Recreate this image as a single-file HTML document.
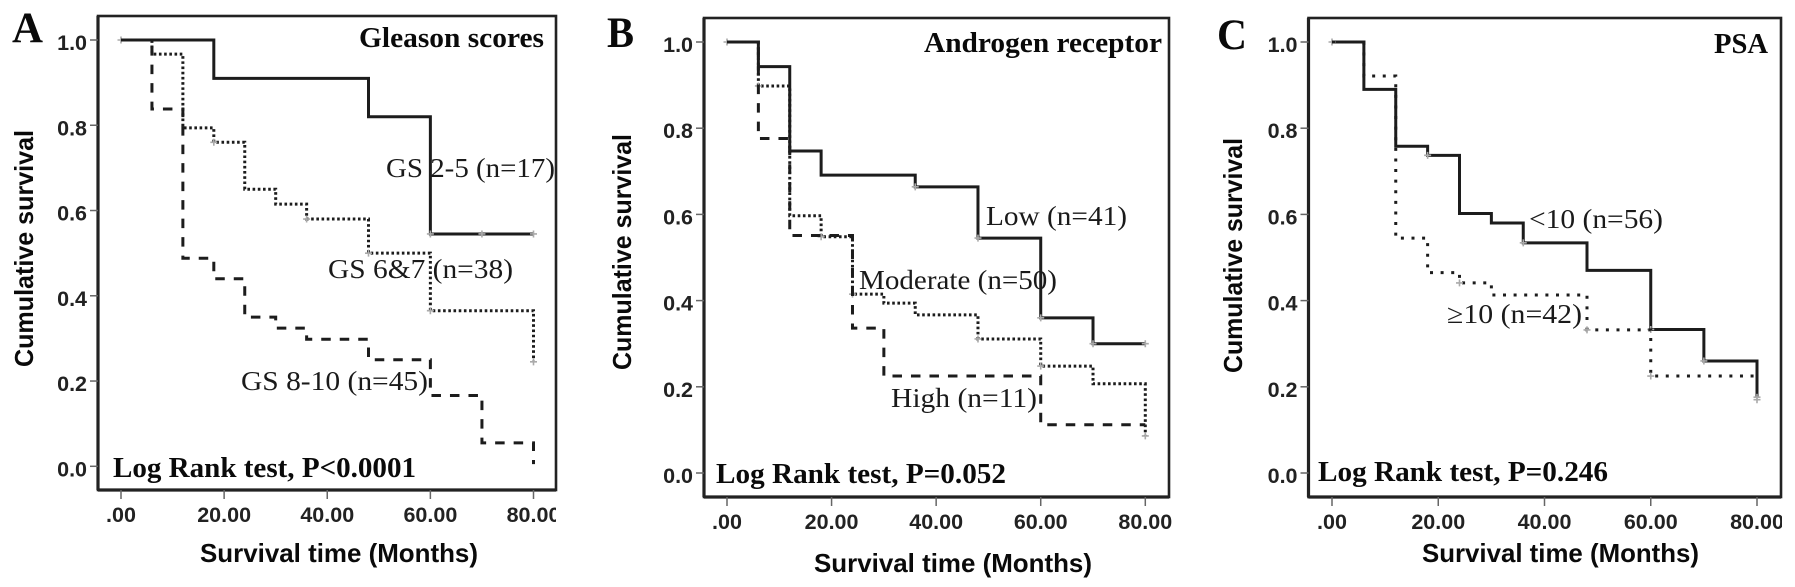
<!DOCTYPE html>
<html lang="en">
<head>
<meta charset="utf-8">
<title>Kaplan-Meier survival curves</title>
<style>
html,body{margin:0;padding:0;background:#fff;}
svg{display:block;}
.letter{font:bold 43px "Liberation Serif",serif;fill:#0a0a0a;}
.title{font:bold 28px "Liberation Serif",serif;fill:#0a0a0a;}
.logrank{font:bold 28px "Liberation Serif",serif;fill:#0a0a0a;}
.label{font:27px "Liberation Serif",serif;fill:#1a1a1a;}
.axis-title{font:bold 26px "Liberation Sans",sans-serif;fill:#0a0a0a;}
.tick-label{font:bold 21.5px "Liberation Sans",sans-serif;fill:#222;}
</style>
</head>
<body>
<svg id="chart" xmlns="http://www.w3.org/2000/svg" width="1795" height="587" viewBox="0 0 1795 587">
  <defs>
    <clipPath id="clip-a"><rect x="90" y="495" width="466" height="40"/></clipPath>
    <clipPath id="clip-c"><rect x="1300" y="495" width="482" height="40"/></clipPath>
  </defs>
  <rect x="0" y="0" width="1795" height="587" fill="#fff"/>
  <g id="panel-a"></g>
  <g id="panel-b"></g>
  <g id="panel-c"></g>

  <text class="letter" x="12" y="42" textLength="31" lengthAdjust="spacingAndGlyphs">A</text>
  <text class="title" x="359" y="47" textLength="185" lengthAdjust="spacingAndGlyphs">Gleason scores</text>
  <text class="label" x="386" y="177" textLength="169" lengthAdjust="spacingAndGlyphs">GS 2-5 (n=17)</text>
  <text class="label" x="328" y="278" textLength="185" lengthAdjust="spacingAndGlyphs">GS 6&amp;7 (n=38)</text>
  <text class="label" x="241" y="390" textLength="187" lengthAdjust="spacingAndGlyphs">GS 8-10 (n=45)</text>
  <text class="logrank" x="113" y="477" textLength="303" lengthAdjust="spacingAndGlyphs">Log Rank test, P&lt;0.0001</text>
  <text class="axis-title" x="200" y="562" textLength="278" lengthAdjust="spacingAndGlyphs">Survival time (Months)</text>
  <text class="axis-title" transform="translate(33,367) rotate(-90)" textLength="237" lengthAdjust="spacingAndGlyphs">Cumulative survival</text>

  <text class="letter" x="607" y="47" textLength="27" lengthAdjust="spacingAndGlyphs">B</text>
  <text class="title" x="924" y="52" textLength="238" lengthAdjust="spacingAndGlyphs">Androgen receptor</text>
  <text class="label" x="986" y="225" textLength="141" lengthAdjust="spacingAndGlyphs">Low (n=41)</text>
  <text class="label" x="859" y="289" textLength="198" lengthAdjust="spacingAndGlyphs">Moderate (n=50)</text>
  <text class="label" x="891" y="407" textLength="146" lengthAdjust="spacingAndGlyphs">High (n=11)</text>
  <text class="logrank" x="716" y="483" textLength="290" lengthAdjust="spacingAndGlyphs">Log Rank test, P=0.052</text>
  <text class="axis-title" x="814" y="572" textLength="278" lengthAdjust="spacingAndGlyphs">Survival time (Months)</text>
  <text class="axis-title" transform="translate(631,370) rotate(-90)" textLength="236" lengthAdjust="spacingAndGlyphs">Cumulative survival</text>

  <text class="letter" x="1217" y="49" textLength="30" lengthAdjust="spacingAndGlyphs">C</text>
  <text class="title" x="1714" y="53" textLength="54" lengthAdjust="spacingAndGlyphs">PSA</text>
  <text class="label" x="1529" y="228" textLength="134" lengthAdjust="spacingAndGlyphs">&lt;10 (n=56)</text>
  <text class="label" x="1447" y="323" textLength="135" lengthAdjust="spacingAndGlyphs">≥10 (n=42)</text>
  <text class="logrank" x="1318" y="481" textLength="290" lengthAdjust="spacingAndGlyphs">Log Rank test, P=0.246</text>
  <text class="axis-title" x="1422" y="562" textLength="277" lengthAdjust="spacingAndGlyphs">Survival time (Months)</text>
  <text class="axis-title" transform="translate(1242,373) rotate(-90)" textLength="235" lengthAdjust="spacingAndGlyphs">Cumulative survival</text>
</svg>

<script>
// Shared axis data
const xTicks = [0, 20, 40, 60, 80];
const xTickLabels = ['.00', '20.00', '40.00', '60.00', '80.00'];
const yTicks = [0, 0.2, 0.4, 0.6, 0.8, 1];
const yTickLabels = ['0.0', '0.2', '0.4', '0.6', '0.8', '1.0'];

// Panel A: Gleason scores
const gs25Times = [0, 18, 48, 60, 80];
const gs25Survival = [1, 0.91, 0.82, 0.545, 0.545];
const gs25Censored = [0, 60, 70, 80];
const gs67Times = [0, 6, 12, 18, 24, 30, 36, 48, 60, 80];
const gs67Survival = [1, 0.967, 0.794, 0.76, 0.65, 0.615, 0.58, 0.5, 0.365, 0.245];
const gs67Censored = [18, 36, 48, 60, 80];
const gs810Times = [0, 6, 12, 18, 24, 30, 36, 48, 60, 70, 80];
const gs810Survival = [1, 0.838, 0.488, 0.44, 0.35, 0.324, 0.298, 0.25, 0.166, 0.055, 0.005];
const gs810Censored = [];

// Panel B: Androgen receptor
const lowTimes = [0, 6, 12, 18, 36, 48, 60, 70, 80];
const lowSurvival = [1, 0.943, 0.747, 0.691, 0.664, 0.545, 0.36, 0.3, 0.3];
const lowCensored = [0, 36, 48, 60, 70, 80];
const moderateTimes = [0, 6, 12, 18, 24, 30, 36, 48, 60, 70, 80];
const moderateSurvival = [1, 0.898, 0.597, 0.548, 0.415, 0.394, 0.367, 0.311, 0.248, 0.207, 0.086];
const moderateCensored = [6, 18, 24, 48, 60, 80];
const highTimes = [0, 6, 12, 24, 30, 60, 80];
const highSurvival = [1, 0.776, 0.551, 0.336, 0.225, 0.112, 0.112];
const highCensored = [];

// Panel C: PSA
const psaLowTimes = [0, 6, 12, 18, 24, 30, 36, 48, 60, 70, 80];
const psaLowSurvival = [1, 0.89, 0.758, 0.737, 0.602, 0.58, 0.534, 0.47, 0.333, 0.26, 0.176];
const psaLowCensored = [0, 18, 36, 60, 70, 80];
const psaHighTimes = [0, 6, 12, 18, 24, 30, 48, 60, 80];
const psaHighSurvival = [1, 0.921, 0.545, 0.465, 0.441, 0.413, 0.332, 0.225, 0.17];
const psaHighCensored = [24, 48, 60, 80];

const SVG_NS = 'http://www.w3.org/2000/svg';
const INK = '#222';

function make(tag, parent, props) {
  const node = document.createElementNS(SVG_NS, tag);
  for (const key in props) node.setAttribute(key, props[key]);
  parent.appendChild(node);
  return node;
}

function linearScale(domainA, domainB, rangeA, rangeB) {
  return function (v) {
    return rangeA + (v - domainA) * (rangeB - rangeA) / (domainB - domainA);
  };
}

function stepPath(times, values, xScale, yScale) {
  let d = 'M' + xScale(times[0]) + ' ' + yScale(values[0]);
  for (let i = 1; i < times.length; i++) {
    d += ' H' + xScale(times[i]);
    d += ' V' + yScale(values[i]);
  }
  return d;
}

function survivalAt(t, times, values) {
  let s = values[0];
  for (let i = 0; i < times.length; i++) {
    if (times[i] <= t) s = values[i];
  }
  return s;
}

function drawAxes(root, box, xScale, yScale, labelBaseline, clipId) {
  const frame = make('rect', root, {x: box.left, y: box.top, width: box.right - box.left, height: box.bottom - box.top, fill: 'none', stroke: INK, 'stroke-width': 2.6});
  
  

  const spine = make('line', root, {x1: box.left, x2: box.left, y1: box.top, y2: box.bottom, stroke: INK, 'stroke-width': 3.2});
  
  

  const floor = make('line', root, {x1: box.left, x2: box.right, y1: box.bottom, y2: box.bottom, stroke: INK, 'stroke-width': 3.2});
  
  

  yTicks.forEach(function (v, i) {
    const tick = make('line', root, {x1: box.left - 8, x2: box.left, y1: yScale(v), y2: yScale(v), stroke: '#666', 'stroke-width': 1.5});
    
    

    const label = make('text', root, {x: box.left - 11, y: yScale(v) + 10, 'text-anchor': 'end', class: 'tick-label'});
    
    
    label.textContent = yTickLabels[i];
  });

  const xLabels = make('g', root, clipId ? {'clip-path': 'url(#' + clipId + ')'} : {});
  
  

  xTicks.forEach(function (v, i) {
    const tick = make('line', root, {x1: xScale(v), x2: xScale(v), y1: box.bottom, y2: box.bottom + 9, stroke: '#666', 'stroke-width': 1.5});
    
    

    const label = make('text', xLabels, {x: xScale(v), y: labelBaseline, 'text-anchor': 'middle', class: 'tick-label'});
    
    
    label.textContent = xTickLabels[i];
  });
}

function drawSeries(root, name, times, values, censored, dash, width, xScale, yScale) {
  const group = make('g', root, {});
  
  

  const line = make('path', group, {d: stepPath(times, values, xScale, yScale), fill: 'none', stroke: '#1c1c1c', 'stroke-width': width, 'stroke-dasharray': dash});
  
  

  censored.forEach(function (t) {
    const cx = xScale(t);
    const cy = yScale(survivalAt(t, times, values));
    const mark = make('path', group, {d: 'M' + (cx - 3.5) + ' ' + cy + ' H' + (cx + 3.5) + ' M' + cx + ' ' + (cy - 3.5) + ' V' + (cy + 3.5), stroke: '#aaa', 'stroke-width': 1.6, fill: 'none'});
    
    
  });
}

// Panel A
const rootA = document.getElementById('panel-a');
const xA = linearScale(0, 80, 121, 533.5);
const yA = linearScale(0, 1, 466.3, 40);
drawAxes(rootA, {left: 98, right: 556, top: 16, bottom: 490}, xA, yA, 522, 'clip-a');
drawSeries(rootA, 'gs-2-5-curve', gs25Times, gs25Survival, gs25Censored, 'none', 3, xA, yA);
drawSeries(rootA, 'gs-6-7-curve', gs67Times, gs67Survival, gs67Censored, '2.6 2.6', 3, xA, yA);
drawSeries(rootA, 'gs-8-10-curve', gs810Times, gs810Survival, gs810Censored, '9.5 9', 3, xA, yA);

// Panel B
const rootB = document.getElementById('panel-b');
const xB = linearScale(0, 80, 727, 1145.3);
const yB = linearScale(0, 1, 473, 42);
drawAxes(rootB, {left: 704, right: 1169, top: 18, bottom: 497}, xB, yB, 529, null);
drawSeries(rootB, 'low-curve', lowTimes, lowSurvival, lowCensored, 'none', 3, xB, yB);
drawSeries(rootB, 'moderate-curve', moderateTimes, moderateSurvival, moderateCensored, '2.6 2.6', 3, xB, yB);
drawSeries(rootB, 'high-curve', highTimes, highSurvival, highCensored, '9.5 9', 3, xB, yB);

// Panel C
const rootC = document.getElementById('panel-c');
const xC = linearScale(0, 80, 1332, 1757);
const yC = linearScale(0, 1, 473, 42);
drawAxes(rootC, {left: 1308.5, right: 1781, top: 18, bottom: 497}, xC, yC, 529, 'clip-c');
drawSeries(rootC, 'psa-under-10-curve', psaLowTimes, psaLowSurvival, psaLowCensored, 'none', 3, xC, yC);
drawSeries(rootC, 'psa-over-10-curve', psaHighTimes, psaHighSurvival, psaHighCensored, '3 7.6', 3, xC, yC);
</script>
</body>
</html>
